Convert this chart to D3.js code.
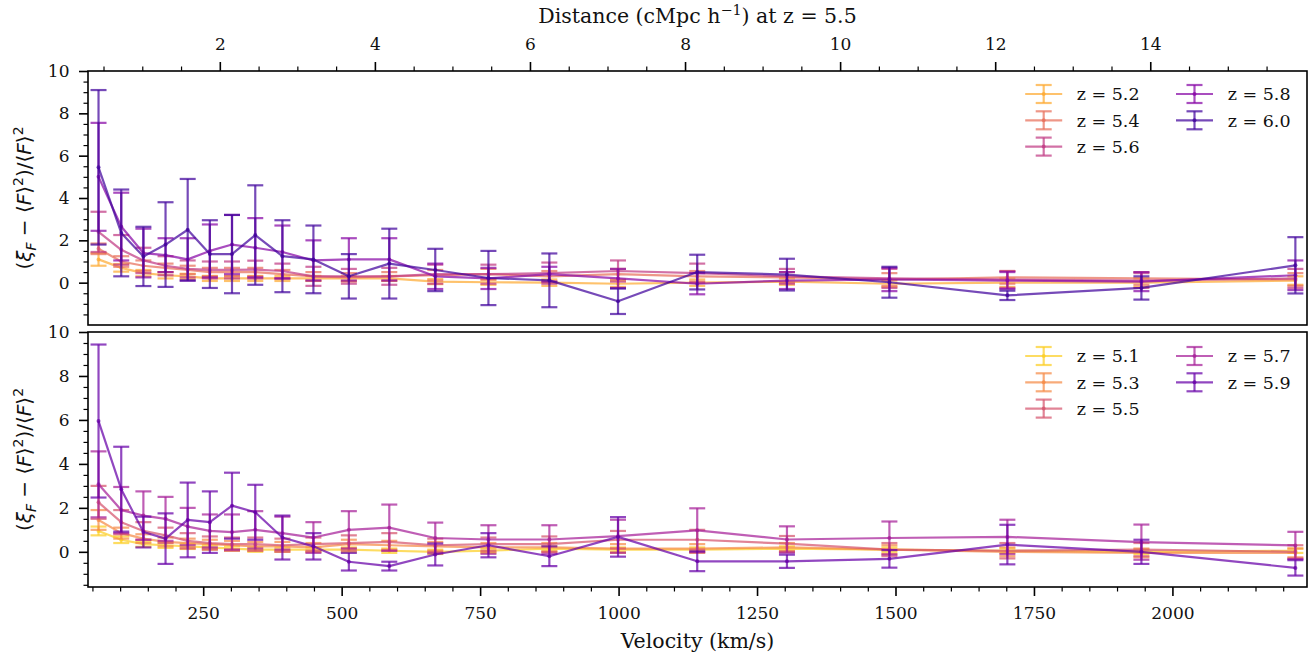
<!DOCTYPE html>
<html><head><meta charset="utf-8">
<script src="https://cdn.jsdelivr.net/npm/d3@7"></script>
<style>body{margin:0;background:#fff}svg{display:block}</style>
</head><body>
<svg id="chart" width="1312" height="657"></svg>
<script>
// ---------------- DATA ----------------
const velocity = [61, 102, 142, 182, 222, 262, 302, 344, 393, 449, 513, 586, 669, 765, 875, 999, 1142, 1304, 1489, 1702, 1944, 2222];

// Top panel
const topLabels = ["5.2", "5.4", "5.6", "5.8", "6.0"];
const top52 = [1.1, 0.7, 0.45, 0.35, 0.3, 0.2, 0.2, 0.2, 0.2, 0.2, 0.2, 0.2, 0.05, 0.02, 0.0, -0.05, 0.0, 0.05, -0.05, 0.0, 0.0, 0.1];
const top52Err = [0.3, 0.18, 0.15, 0.15, 0.12, 0.12, 0.12, 0.12, 0.12, 0.12, 0.12, 0.12, 0.12, 0.12, 0.15, 0.15, 0.15, 0.15, 0.15, 0.2, 0.2, 0.2];
const top54 = [1.6, 1.0, 0.8, 0.7, 0.6, 0.5, 0.5, 0.5, 0.4, 0.3, 0.25, 0.3, 0.35, 0.4, 0.3, 0.4, 0.3, 0.25, 0.15, 0.25, 0.2, 0.15];
const top54Err = [0.25, 0.25, 0.25, 0.2, 0.2, 0.2, 0.2, 0.2, 0.2, 0.2, 0.2, 0.2, 0.25, 0.25, 0.25, 0.25, 0.25, 0.25, 0.3, 0.3, 0.3, 0.3];
const top56 = [2.4, 1.55, 1.05, 0.8, 0.65, 0.6, 0.6, 0.62, 0.55, 0.3, 0.3, 0.3, 0.4, 0.4, 0.45, 0.55, 0.45, 0.3, 0.2, 0.15, 0.1, 0.2];
const top56Err = [0.95, 0.7, 0.6, 0.45, 0.4, 0.4, 0.4, 0.42, 0.35, 0.45, 0.35, 0.4, 0.45, 0.45, 0.5, 0.5, 0.45, 0.35, 0.45, 0.4, 0.35, 0.45];
const top58 = [5.0, 2.65, 1.4, 1.3, 1.1, 1.5, 1.8, 1.65, 1.45, 1.05, 1.1, 1.1, 0.3, 0.2, 0.4, 0.2, -0.05, 0.1, 0.15, 0.1, 0.05, 0.35];
const top58Err = [2.55, 1.6, 1.15, 0.8, 1.0, 1.25, 1.4, 1.4, 1.25, 0.95, 1.0, 1.0, 0.6, 0.5, 0.35, 0.45, 0.5, 0.4, 0.55, 0.4, 0.45, 0.7];
const top60 = [5.45, 2.35, 1.24, 1.8, 2.5, 1.35, 1.35, 2.25, 1.25, 1.1, 0.3, 0.9, 0.6, 0.22, 0.11, -0.88, 0.5, 0.38, 0.02, -0.6, -0.25, 0.82];
const top60Err = [3.65, 2.05, 1.4, 2.0, 2.4, 1.6, 1.85, 2.35, 1.7, 1.6, 1.05, 1.65, 1.0, 1.28, 1.27, 0.6, 0.82, 0.75, 0.73, 0.22, 0.55, 1.33];

// Bottom panel
const bottomLabels = ["5.1", "5.3", "5.5", "5.7", "5.9"];
const bot51 = [0.95, 0.55, 0.35, 0.3, 0.25, 0.2, 0.15, 0.1, 0.1, 0.1, 0.1, 0.05, 0.0, 0.05, 0.15, 0.1, 0.1, 0.15, 0.1, 0.05, 0.0, 0.05];
const bot51Err = [0.2, 0.15, 0.12, 0.12, 0.12, 0.1, 0.1, 0.1, 0.1, 0.1, 0.1, 0.1, 0.1, 0.1, 0.1, 0.1, 0.1, 0.1, 0.1, 0.1, 0.1, 0.1];
const bot53 = [1.45, 0.85, 0.6, 0.45, 0.4, 0.35, 0.3, 0.25, 0.25, 0.2, 0.35, 0.3, 0.25, 0.2, 0.2, 0.15, 0.15, 0.2, 0.1, 0.0, -0.05, -0.05];
const bot53Err = [0.45, 0.25, 0.2, 0.2, 0.2, 0.2, 0.2, 0.2, 0.2, 0.2, 0.2, 0.2, 0.2, 0.2, 0.2, 0.2, 0.2, 0.2, 0.2, 0.2, 0.2, 0.2];
const bot55 = [2.25, 1.35, 0.95, 0.75, 0.5, 0.4, 0.35, 0.35, 0.3, 0.35, 0.4, 0.45, 0.3, 0.35, 0.35, 0.55, 0.55, 0.37, 0.1, 0.05, 0.1, 0.0];
const bot55Err = [0.75, 0.55, 0.4, 0.35, 0.35, 0.3, 0.3, 0.3, 0.3, 0.3, 0.35, 0.4, 0.3, 0.3, 0.35, 0.4, 0.45, 0.35, 0.3, 0.35, 0.3, 0.3];
const bot57 = [3.07, 1.9, 1.65, 1.5, 1.15, 0.95, 0.9, 1.0, 0.85, 0.65, 1.0, 1.1, 0.63, 0.56, 0.56, 0.71, 0.98, 0.56, 0.63, 0.68, 0.44, 0.29];
const bot57Err = [1.5, 1.05, 1.1, 1.0, 0.85, 0.75, 0.8, 0.85, 0.75, 0.7, 0.85, 1.05, 0.7, 0.65, 0.65, 0.75, 1.0, 0.6, 0.75, 0.78, 0.8, 0.62];
const bot59 = [5.95, 2.85, 0.9, 0.6, 1.45, 1.35, 2.1, 1.8, 0.65, 0.25, -0.45, -0.65, -0.12, 0.3, -0.2, 0.68, -0.43, -0.43, -0.32, 0.33, 0.0, -0.73];
const bot59Err = [3.48, 1.93, 0.7, 1.15, 1.7, 1.4, 1.5, 1.25, 1.0, 0.6, 0.4, 0.2, 0.5, 0.55, 0.45, 0.9, 0.45, 0.3, 0.4, 0.9, 0.55, 0.35];

const yTicks = [0, 2, 4, 6, 8, 10];
const xTicks = [250, 500, 750, 1000, 1250, 1500, 1750, 2000];
const distTicks = [2, 4, 6, 8, 10, 12, 14];
const kmsPerCMpc = 140; // conversion at z = 5.5

// ---------------- LAYOUT ----------------
const svg = d3.select("#chart");
const L = 88, R = 1307;
const serif = "'DejaVu Serif', serif";
const tickFont = 17, labelFont = 20.5, legendFont = 17.5;
const ALPHA = 0.72;
const LW = 2.2;

const x = d3.scaleLinear().domain([42, 2243]).range([L, R]);
const xDist = d3.scaleLinear().domain([42 / kmsPerCMpc, 2243 / kmsPerCMpc]).range([L, R]);

const colorOf = z => d3.interpolatePlasma(0.9 - (parseFloat(z) - 5.1) * (0.8 / 0.9));

const panels = [
  {top: 71, bottom: 325, ymin: -2.0, labels: topLabels,
   vals: [top52, top54, top56, top58, top60], errs: [top52Err, top54Err, top56Err, top58Err, top60Err], legendTop: 94},
  {top: 332, bottom: 587, ymin: -1.6, labels: bottomLabels,
   vals: [bot51, bot53, bot55, bot57, bot59], errs: [bot51Err, bot53Err, bot55Err, bot57Err, bot59Err], legendTop: 356}
];

function styleAxis(g, width) {
  g.select(".domain").remove();
  g.selectAll(".tick line").attr("stroke", "#000").attr("stroke-width", width);
  g.selectAll(".tick text").attr("font-family", serif).attr("font-size", tickFont).attr("fill", "#111");
}

panels.forEach((p, pi) => {
  const y = d3.scaleLinear().domain([p.ymin, 10]).range([p.bottom, p.top]);
  const clipId = "clip" + pi;
  svg.append("clipPath").attr("id", clipId).append("rect")
    .attr("x", L).attr("y", p.top).attr("width", R - L).attr("height", p.bottom - p.top);

  const yMinor = d3.range(Math.ceil(p.ymin * 2) / 2, 10.001, 0.5).filter(v => Math.abs(v % 2) > 1e-6 && v > p.ymin + 0.01);
  const gyMin = svg.append("g").attr("transform", `translate(${L},0)`)
    .call(d3.axisLeft(y).tickValues(yMinor).tickSize(4.5).tickSizeOuter(0).tickFormat(""));
  styleAxis(gyMin, 1.2);
  const gy = svg.append("g").attr("transform", `translate(${L},0)`)
    .call(d3.axisLeft(y).tickValues(yTicks).tickSize(9).tickPadding(9.5).tickSizeOuter(0).tickFormat(d3.format("d")));
  styleAxis(gy, 1.6);

  if (pi === 0) {
    const dMinor = d3.range(0.5, 15.95, 0.5).filter(v => v % 2 !== 0);
    const gtMin = svg.append("g").attr("transform", `translate(0,${p.top})`)
      .call(d3.axisTop(xDist).tickValues(dMinor).tickSize(4.5).tickSizeOuter(0).tickFormat(""));
    styleAxis(gtMin, 1.2);
    const gt = svg.append("g").attr("transform", `translate(0,${p.top})`)
      .call(d3.axisTop(xDist).tickValues(distTicks).tickSize(9).tickPadding(12.5).tickSizeOuter(0).tickFormat(d3.format("d")));
    styleAxis(gt, 1.6);
  } else {
    const vMinor = d3.range(50, 2241, 50).filter(v => v % 250 !== 0);
    const gbMin = svg.append("g").attr("transform", `translate(0,${p.bottom})`)
      .call(d3.axisBottom(x).tickValues(vMinor).tickSize(4.5).tickSizeOuter(0).tickFormat(""));
    styleAxis(gbMin, 1.2);
    const gb = svg.append("g").attr("transform", `translate(0,${p.bottom})`)
      .call(d3.axisBottom(x).tickValues(xTicks).tickSize(9).tickPadding(11).tickSizeOuter(0).tickFormat(d3.format("d")));
    styleAxis(gb, 1.6);
  }

  const plot = svg.append("g").attr("clip-path", `url(#${clipId})`);
  const line = d3.line().x(d => x(d.v)).y(d => y(d.y));
  p.labels.forEach((z, si) => {
    const col = colorOf(z);
    const pts = velocity.map((v, i) => ({v, y: p.vals[si][i], e: p.errs[si][i]}));
    const g = plot.append("g");
    g.append("path").datum(pts).attr("d", line).attr("fill", "none")
      .attr("stroke", col).attr("stroke-width", LW).attr("stroke-opacity", ALPHA).attr("stroke-linejoin", "round");
    const eb = g.selectAll(".eb").data(pts).enter().append("g");
    eb.append("line").attr("x1", d => x(d.v)).attr("x2", d => x(d.v))
      .attr("y1", d => y(d.y - d.e)).attr("y2", d => y(d.y + d.e))
      .attr("stroke", col).attr("stroke-width", LW).attr("stroke-opacity", ALPHA);
    [-1, 1].forEach(sg => {
      eb.append("line").attr("x1", d => x(d.v) - 8).attr("x2", d => x(d.v) + 8)
        .attr("y1", d => y(d.y + sg * d.e)).attr("y2", d => y(d.y + sg * d.e))
        .attr("stroke", col).attr("stroke-width", LW).attr("stroke-opacity", ALPHA);
    });
    eb.append("circle").attr("cx", d => x(d.v)).attr("cy", d => y(d.y)).attr("r", 2)
      .attr("fill", col).attr("fill-opacity", ALPHA);
  });

  svg.append("rect").attr("x", L).attr("y", p.top).attr("width", R - L).attr("height", p.bottom - p.top)
    .attr("fill", "none").attr("stroke", "#000").attr("stroke-width", 1.6);

  const colX = [1043.7, 1194.5];
  const textX = [1076.7, 1227.7];
  const rowH = 26.3;
  p.labels.forEach((z, si) => {
    const c = Math.floor(si / 3), r = si % 3;
    const cx = colX[c], cy = p.legendTop + r * rowH;
    const col = colorOf(z);
    const lg = svg.append("g");
    lg.append("line").attr("x1", cx - 18.5).attr("x2", cx + 18.5).attr("y1", cy).attr("y2", cy)
      .attr("stroke", col).attr("stroke-width", LW).attr("stroke-opacity", ALPHA);
    lg.append("line").attr("x1", cx).attr("x2", cx).attr("y1", cy - 9).attr("y2", cy + 9)
      .attr("stroke", col).attr("stroke-width", LW).attr("stroke-opacity", ALPHA);
    [-9, 9].forEach(o => lg.append("line").attr("x1", cx - 8).attr("x2", cx + 8).attr("y1", cy + o).attr("y2", cy + o)
      .attr("stroke", col).attr("stroke-width", LW).attr("stroke-opacity", ALPHA));
    lg.append("circle").attr("cx", cx).attr("cy", cy).attr("r", 2).attr("fill", col).attr("fill-opacity", ALPHA);
    lg.append("text").attr("x", textX[c]).attr("y", cy).attr("dy", "0.36em")
      .attr("font-family", serif).attr("font-size", legendFont).attr("fill", "#111")
      .text("z = " + z);
  });

  const cy = (p.top + p.bottom) / 2;
  const yl = svg.append("text").attr("transform", `translate(31,${cy}) rotate(-90)`)
    .attr("text-anchor", "middle").attr("font-family", "'DejaVu Sans', sans-serif")
    .attr("font-size", 20).attr("fill", "#111");
  const parts = [
    ["(", null, 0], ["ξ", "italic", 0], ["F", "italic", 5, 0.7], [" − ⟨", null, -5], ["F", "italic", 0], ["⟩", null, 0],
    ["2", null, -8, 0.7], [")/⟨", null, 8], ["F", "italic", 0], ["⟩", null, 0], ["2", null, -8, 0.7]
  ];
  parts.forEach(([t, st, dy, sc]) => {
    const ts = yl.append("tspan").text(t).attr("dy", dy);
    if (st) ts.attr("font-style", st);
    if (sc) ts.attr("font-size", 20 * sc);
  });
});

const tl = svg.append("text").attr("x", (L + R) / 2).attr("y", 23.3).attr("text-anchor", "middle")
  .attr("font-family", serif).attr("font-size", labelFont).attr("fill", "#111");
tl.append("tspan").text("Distance (cMpc h");
tl.append("tspan").text("−1").attr("font-size", labelFont * 0.7).attr("dy", -8);
tl.append("tspan").text(") at z = 5.5").attr("dy", 8);

svg.append("text").attr("x", (L + R) / 2).attr("y", 648.3).attr("text-anchor", "middle")
  .attr("font-family", serif).attr("font-size", labelFont).attr("fill", "#111")
  .text("Velocity (km/s)");
</script>
</body></html>
